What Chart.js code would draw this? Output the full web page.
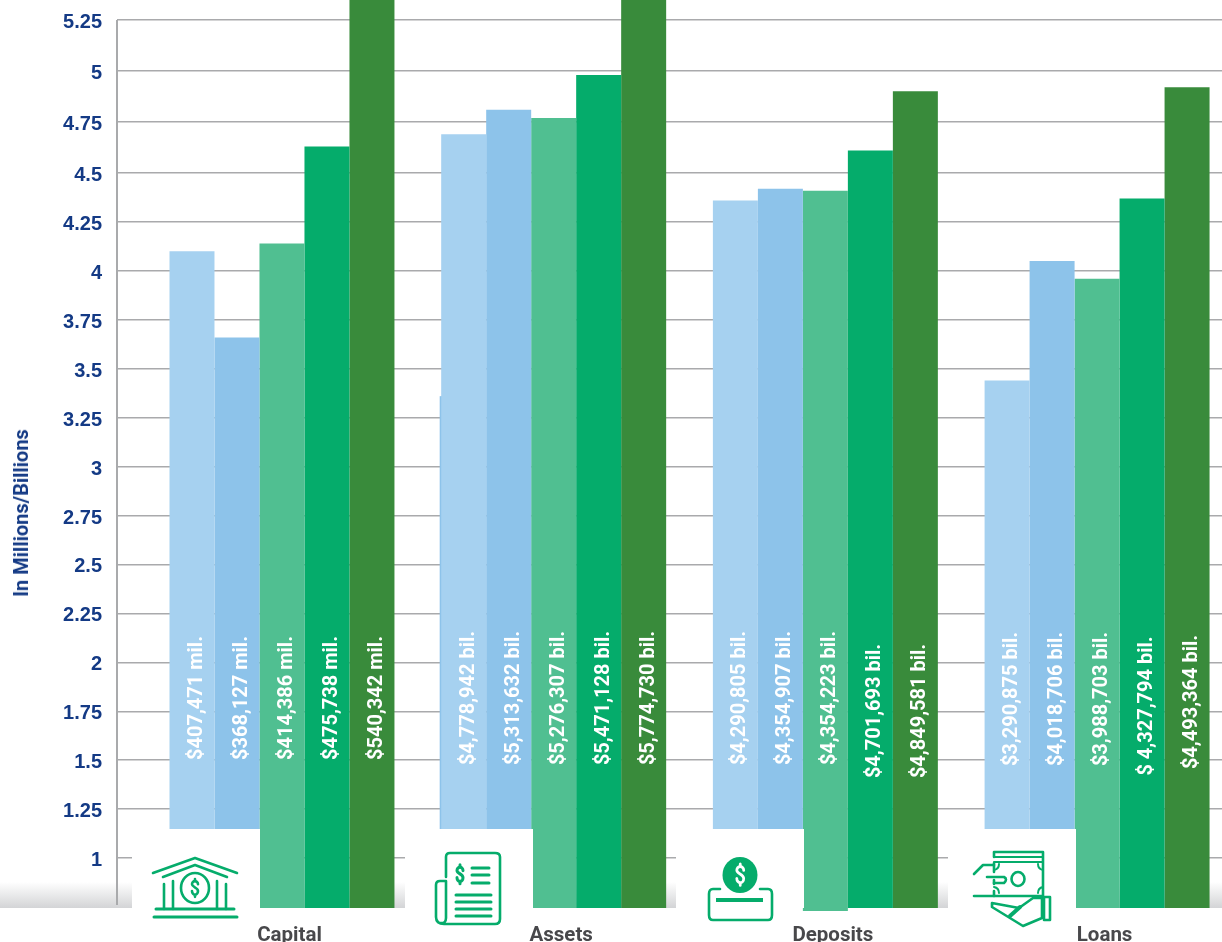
<!DOCTYPE html>
<html lang="en">
<head>
    <meta charset="UTF-8">
    <title>Capital, Assets, Deposits, Loans</title>
    <script src="https://cdn.jsdelivr.net/npm/chart.js"></script>
    <style>
        html, body { margin: 0; padding: 0; background: #fff; overflow: hidden; }
        #page { position: relative; width: 1222px; height: 942px; overflow: hidden; }
        #band { position: absolute; left: 0; top: 882px; width: 1222px; height: 26px; background: linear-gradient(#ffffff, #d3d4d6); }
        canvas { position: absolute; left: 0; top: 0; }
        .box { position: absolute; top: 829px; width: 128px; height: 79px; background: #fff; }
        .box svg { position: absolute; overflow: visible; fill: none; stroke: #05ac6b; stroke-width: 2.6; stroke-linecap: round; stroke-linejoin: round; }
        #ytitle { position: absolute; left: 21px; top: 513px; transform: translate(-50%, -50%) rotate(-90deg); white-space: nowrap; font: bold 20px Roboto, sans-serif; color: #143a85; }
    </style>
</head>
<body>
<div id="page">
    <div id="band"></div>
    <canvas id="myChart" width="1222" height="942"></canvas>

    <div class="box" style="left:132px">
        <svg style="left:20px;top:28px" width="87" height="62" viewBox="0 0 87 62">
            <polyline points="1,16 43,1 85,16"/>
            <polyline points="11,20 43,8 75,20"/>
            <ellipse cx="43" cy="31" rx="14" ry="15"/>
            <path transform="translate(38,22) scale(1,1.05)" d="M8 5 C8 3 6 2 5 2 C3 2 2 3.5 2 5 C2 8 8 8 8 11.5 C8 13.5 6.5 15 5 15 C3.5 15 2 13.5 2 11.5 M5 0 V2 M5 15 V17"/>
            <path d="M12 27 V52 M21 24 V52 M65 24 V52 M74 27 V52"/>
            <path d="M4 52 H82" stroke-width="3"/>
            <path d="M2 60 H85" stroke-width="3"/>
        </svg>
    </div>
    <div class="box" style="left:405px">
        <svg style="left:29px;top:23px" width="67" height="73" viewBox="0 0 67 73">
            <path d="M12 25 V5 Q12 1 16 1 H61 Q66 1 66 5 V67 Q66 72 61 72 H10 Q2 72 2 65 V33 Q2 29 6 29 H12 V66 Q12 72 6 71"/>
            <path transform="translate(21,13) scale(1,1.1)" d="M8 5 C8 3 6 2 5 2 C3 2 2 3.5 2 5 C2 8 8 8 8 11.5 C8 13.5 6.5 15 5 15 C3.5 15 2 13.5 2 11.5 M5 0 V2 M5 15 V17" stroke-width="3"/>
            <path d="M38 16 H55 M38 23 H55 M38 31 H55 M22 43 H57 M22 50 H57 M22 57 H57 M22 64 H57" stroke-width="3"/>
        </svg>
    </div>
    <div class="box" style="left:676px">
        <svg style="left:31px;top:28px" width="67" height="65" viewBox="0 0 67 65">
            <path d="M13 32 H6 Q2 32 2 37 V58 Q2 63 6 63 H61 Q65 63 65 58 V37 Q65 32 61 32 H53"/>
            <ellipse cx="33" cy="18" rx="17.5" ry="18" fill="#05ac6b" stroke="none"/>
            <path transform="translate(27.5,7) scale(1.15,1.25)" d="M8 5 C8 3 6 2 5 2 C3 2 2 3.5 2 5 C2 8 8 8 8 11.5 C8 13.5 6.5 15 5 15 C3.5 15 2 13.5 2 11.5 M5 0 V2 M5 15 V17" stroke="#fff" stroke-width="2.4"/>
            <path d="M9 43 H56" stroke-width="4" stroke-linecap="butt"/>
        </svg>
    </div>
    <div class="box" style="left:948px">
        <svg style="left:25px;top:21px" width="79" height="77" viewBox="0 0 79 77">
            <path d="M21 7 V2 H70 V46 H21 V41"/>
            <path d="M21 7 H70 M21 12 H70" stroke-width="2"/>
            <path d="M21 22 V13 M21 34 V30"/>
            <path d="M21 20 Q26 19 26 14 M65 14 Q65 19 70 20 M21 37 Q26 38 26 43 M65 43 Q65 38 70 37" stroke-width="2"/>
            <ellipse cx="45" cy="29" rx="6.5" ry="7"/>
            <path d="M1 24 L10 15 H21 M14 27 H31 Q35 29 31 33 H21 M1 46 H21"/>
            <path d="M19 53 L46 58 L60 48 H69 V68 L50 76 L19 57 Z"/>
            <path d="M37 66 L47 57" stroke-width="4"/>
            <path d="M71 47 H77 V70 H71 Z"/>
        </svg>
    </div>

    <div id="ytitle">In Millions/Billions</div>
</div>

<script>
    // Datos
    const categories = ['Capital', 'Assets', 'Deposits', 'Loans'];
    const yTicks = [5.25, 5, 4.75, 4.5, 4.25, 4, 3.75, 3.5, 3.25, 3, 2.75, 2.5, 2.25, 2, 1.75, 1.5, 1.25, 1];

    const series1 = [4.10, 4.69, 4.36, 3.44];
    const series2 = [3.66, 4.81, 4.42, 4.05];
    const series3 = [4.14, 4.77, 4.41, 3.96];
    const series4 = [4.63, 4.98, 4.61, 4.37];
    const series5 = [5.5, 5.5, 4.90, 4.92];
    const series3Bottom = [0.745, 0.745, 0.73, 0.745];

    const labels1 = ['$407,471 mil.', '$4,778,942 bil.', '$4,290,805 bil.', '$3,290,875 bil.'];
    const labels2 = ['$368,127 mil.', '$5,313,632 bil.', '$4,354,907 bil.', '$4,018,706 bil.'];
    const labels3 = ['$414,386 mil.', '$5,276,307 bil.', '$4,354,223 bil.', '$3,988,703 bil.'];
    const labels4 = ['$475,738 mil.', '$5,471,128 bil.', '$4,701,693 bil.', '$ 4,327,794 bil.'];
    const labels5 = ['$540,342 mil.', '$5,774,730 bil.', '$4,849,581 bil.', '$4,493,364 bil.'];

    const colors = ['#a6d1f0', '#8dc3ea', '#50bf91', '#05ac6b', '#398b3b'];
    const assetsEdgeValue = 3.36;

    // The reference axis is slightly stretched above 4.5
    class KinkedScale extends Chart.LinearScale {
        getPixelForValue(value) {
            const v = value > 4.5 ? 4.5 + (value - 4.5) * 1.043 : value;
            return super.getPixelForValue(v);
        }
    }
    KinkedScale.id = 'kinked';
    KinkedScale.defaults = Chart.LinearScale.defaults;
    Chart.register(KinkedScale);

    const toPoints = values => values.map((y, x) => ({ x: x, y: y }));
    const valueLabels = [labels1, labels2, labels3, labels4, labels5];

    // Vertical centre of the rotated labels, a few of them sit lower
    function labelMiddle(s, i) {
        if (i === 0) return 698;
        if (i === 2 && s >= 3) return 711;
        if (i === 3) return [699, 699, 699, 706, 702][s];
        return 698;
    }

    const extras = {
        id: 'extras',
        beforeDatasetsDraw(chart) {
            const ctx = chart.ctx, y = chart.scales.y;
            ctx.save();
            // eje vertical
            ctx.strokeStyle = '#a9aaac';
            ctx.lineWidth = 2;
            ctx.beginPath();
            ctx.moveTo(chart.chartArea.left, y.getPixelForValue(5.25));
            ctx.lineTo(chart.chartArea.left, y.getPixelForValue(0.76));
            ctx.stroke();
            // thin bar edge showing behind the first Assets bar
            const bar = chart.getDatasetMeta(0).data[1];
            const top = y.getPixelForValue(assetsEdgeValue);
            ctx.fillStyle = colors[1];
            ctx.fillRect(bar.x - bar.width / 2 - 1.5, top, 2.5, y.getPixelForValue(1.148) - top);
            ctx.restore();
        },
        afterDatasetsDraw(chart) {
            const ctx = chart.ctx;
            ctx.save();
            ctx.fillStyle = '#fff';
            ctx.font = 'bold 20px Roboto, sans-serif';
            ctx.textAlign = 'center';
            ctx.textBaseline = 'middle';
            valueLabels.forEach((texts, s) => {
                chart.getDatasetMeta(s).data.forEach((bar, i) => {
                    ctx.save();
                    ctx.translate(bar.x + 5, labelMiddle(s, i));
                    ctx.rotate(-Math.PI / 2);
                    ctx.fillText(texts[i], 0, 0);
                    ctx.restore();
                });
            });
            ctx.restore();
        }
    };

    const datasets = [series1, series2, series3, series4, series5].map((values, s) => ({
        data: s === 2
            ? values.map((v, x) => ({ x: x, y: [series3Bottom[x], v] }))
            : toPoints(values),
        base: 0.745,
        backgroundColor: colors[s],
        borderWidth: 0,
        categoryPercentage: 0.828,
        barPercentage: 1
    }));

    new Chart(document.getElementById('myChart').getContext('2d'), {
        type: 'bar',
        data: { datasets: datasets },
        plugins: [extras],
        options: {
            responsive: false,
            animation: false,
            layout: { padding: 0 },
            plugins: { legend: { display: false }, tooltip: { enabled: false } },
            scales: {
                x: {
                    type: 'linear',
                    offset: false,
                    min: -0.6072,
                    max: 3.4598,
                    grid: { display: false },
                    border: { display: false },
                    afterBuildTicks: scale => { scale.ticks = categories.map((c, i) => ({ value: i })); },
                    afterFit: scale => { scale.height = 31; scale.paddingLeft = 0; scale.paddingRight = 0; },
                    ticks: {
                        autoSkip: false,
                        maxRotation: 0,
                        padding: 5,
                        labelOffset: 7.5,
                        color: '#48484b',
                        font: { family: 'Roboto', weight: 'bold', size: 20.5 },
                        callback: v => categories[v]
                    }
                },
                y: {
                    type: 'kinked',
                    min: 0.7296,
                    max: 5.384,
                    grid: { color: '#a9aaac', lineWidth: 1.5, drawTicks: false },
                    border: { display: false },
                    afterBuildTicks: scale => { scale.ticks = yTicks.map(v => ({ value: v })); },
                    afterFit: scale => { scale.width = 117; scale.paddingTop = 0; scale.paddingBottom = 0; },
                    ticks: {
                        autoSkip: false,
                        padding: 15,
                        labelOffset: 2.5,
                        color: '#143a85',
                        font: { family: 'Liberation Sans', weight: 'bold', size: 20 },
                        callback: v => String(v)
                    }
                }
            }
        }
    });
</script>
</body>
</html>
